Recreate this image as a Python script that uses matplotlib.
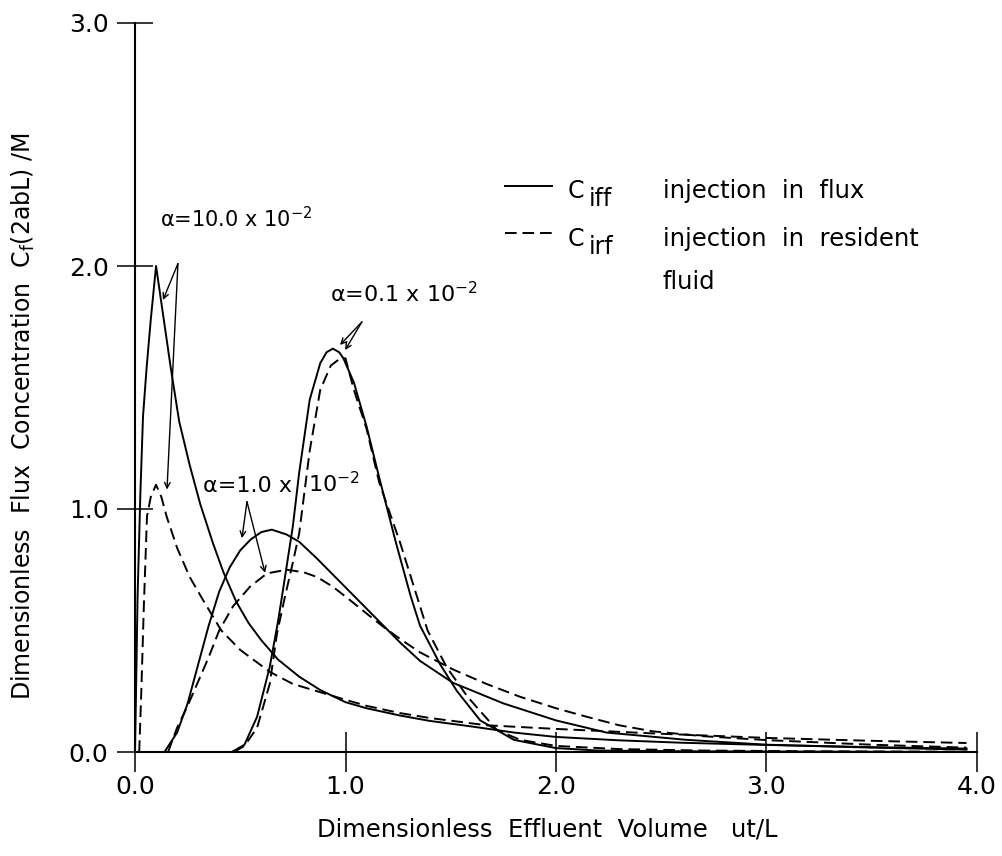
import numpy as np
import matplotlib.pyplot as plt
from matplotlib.lines import Line2D

# alpha = 10.0 x 10^-2
a10_iff_x = [0.0, 0.006, 0.012, 0.025, 0.038, 0.055, 0.075, 0.1, 0.13, 0.17, 0.21, 0.26, 0.31, 0.37,
             0.42, 0.48, 0.54, 0.6, 0.68, 0.78, 0.88, 1.0, 1.1, 1.26, 1.4, 1.6, 1.8, 2.0, 2.3, 2.6,
             3.0, 3.5, 3.95]
a10_iff_y = [0.0, 0.3, 0.63, 1.05, 1.38, 1.58, 1.78, 2.0, 1.82, 1.58, 1.36, 1.18, 1.02, 0.86,
             0.74, 0.62, 0.53, 0.46, 0.38, 0.31, 0.255, 0.205, 0.18, 0.15, 0.128, 0.105, 0.08, 0.062, 0.048, 0.038,
             0.029, 0.02, 0.014]
a10_irf_x = [0.02, 0.03, 0.042, 0.057, 0.075, 0.1, 0.125, 0.15, 0.2, 0.26, 0.32, 0.41, 0.5, 0.64,
             0.75, 0.865, 1.0, 1.1, 1.26, 1.4, 1.67, 2.0, 2.5, 3.0, 3.5, 3.95]
a10_irf_y = [0.0, 0.25, 0.6, 0.97, 1.05, 1.1, 1.05, 0.97, 0.84, 0.72, 0.63, 0.5, 0.42, 0.33,
             0.28, 0.25, 0.215, 0.19, 0.16, 0.14, 0.11, 0.095, 0.075, 0.058, 0.046, 0.037]

# alpha = 1.0 x 10^-2
a1_iff_x = [0.14, 0.2, 0.25, 0.3, 0.35, 0.4, 0.45, 0.5, 0.55, 0.6, 0.65, 0.72, 0.78, 0.86,
            0.94, 1.02, 1.1, 1.18, 1.26, 1.354, 1.51, 1.75, 2.0, 2.24, 2.62, 3.0, 3.5, 3.95]
a1_iff_y = [0.0, 0.08, 0.2, 0.36, 0.52, 0.66, 0.76, 0.83, 0.875, 0.905, 0.915, 0.895, 0.865, 0.8,
            0.73, 0.66, 0.59, 0.52, 0.45, 0.375, 0.285, 0.2, 0.13, 0.08, 0.05, 0.03, 0.018, 0.01]
a1_irf_x = [0.157, 0.2, 0.25, 0.295, 0.35, 0.4, 0.466, 0.546, 0.627, 0.72, 0.8, 0.865, 0.94, 1.02,
            1.1, 1.18, 1.26, 1.354, 1.51, 1.67, 1.83, 2.0, 2.15, 2.3, 2.46, 2.7, 3.0, 3.5, 3.95]
a1_irf_y = [0.0, 0.1, 0.19, 0.28, 0.39, 0.5, 0.6, 0.68, 0.735, 0.75, 0.74, 0.72, 0.68, 0.626,
            0.57, 0.515, 0.465, 0.41, 0.34, 0.28, 0.227, 0.18, 0.144, 0.11, 0.085, 0.065, 0.049, 0.03, 0.018]

# alpha = 0.1 x 10^-2
a01_iff_x = [0.46, 0.52, 0.58, 0.64, 0.68, 0.7, 0.75, 0.78, 0.83, 0.88, 0.91, 0.94, 0.97, 0.99, 1.04, 1.1,
             1.16, 1.24, 1.31, 1.354, 1.45, 1.53, 1.64, 1.8, 2.0, 2.2, 2.6, 3.0, 3.5, 3.95]
a01_iff_y = [0.0, 0.03, 0.145, 0.35, 0.54, 0.65, 0.93, 1.15, 1.45, 1.6, 1.645, 1.66, 1.645, 1.62, 1.52, 1.34,
             1.13, 0.86, 0.64, 0.52, 0.36, 0.25, 0.13, 0.05, 0.016, 0.006, 0.003, 0.002, 0.001, 0.0]
a01_irf_x = [0.47, 0.52, 0.58, 0.64, 0.675, 0.71, 0.75, 0.78, 0.83, 0.88, 0.93, 0.975, 1.0, 1.04,
             1.1, 1.16, 1.26, 1.39, 1.48, 1.58, 1.72, 1.83, 2.0, 2.3, 2.7, 3.2, 3.95]
a01_irf_y = [0.0, 0.025, 0.1, 0.28, 0.49, 0.63, 0.78, 0.9, 1.24, 1.49, 1.59, 1.62, 1.62, 1.49,
             1.33, 1.11, 0.86, 0.5, 0.35, 0.227, 0.09, 0.05, 0.025, 0.012, 0.006, 0.003, 0.001]

x_ticks = [0, 1, 2, 3, 4]
x_tick_labels = ['0.0', '1.0', '2.0', '3.0', '4.0']
y_ticks = [0, 1, 2, 3]
y_tick_labels = ['0.0', '1.0', '2.0', '3.0']

plt.rcParams['font.family'] = ['DejaVu Sans']
plt.rcParams['mathtext.default'] = 'regular'

fig = plt.figure(figsize=(10.03, 8.56), dpi=100)
ax = fig.add_axes([135/1003, 104/856, 842/1003, 729/856])

LW = 1.4
DASH = (6, 3)
ax.plot(a10_iff_x, a10_iff_y, color='black', lw=LW)
ax.plot(a10_irf_x, a10_irf_y, color='black', lw=LW, dashes=DASH)
ax.plot(a1_iff_x, a1_iff_y, color='black', lw=LW)
ax.plot(a1_irf_x, a1_irf_y, color='black', lw=LW, dashes=DASH)
ax.plot(a01_iff_x, a01_iff_y, color='black', lw=LW)
ax.plot(a01_irf_x, a01_irf_y, color='black', lw=LW, dashes=DASH)

ax.set_xlim(0, 4)
ax.set_ylim(0, 3)
for s in ['top', 'right']:
    ax.spines[s].set_visible(False)
for s in ['left', 'bottom']:
    ax.spines[s].set_linewidth(1.5)

ax.set_xticks(x_ticks)
ax.set_xticklabels(x_tick_labels)
ax.set_yticks(y_ticks)
ax.set_yticklabels(y_tick_labels)
ax.tick_params(axis='x', direction='inout', length=29, width=1.1, pad=2, labelsize=18)
ax.tick_params(axis='y', direction='inout', length=26, width=1.1, pad=6, labelsize=18)

ax.set_xlabel('Dimensionless  Effluent  Volume   ut/L', fontsize=17.5)
ax.xaxis.set_label_coords(0.49, -0.09)
ax.set_ylabel(r'Dimensionless  Flux  Concentration  $\mathregular{C_f}$(2abL) /M', fontsize=17)
ax.yaxis.set_label_coords(-0.1164, 0.461)

# annotations
arr = dict(arrowstyle='->', color='black', lw=1.0, shrinkA=0, shrinkB=0)
ax.text(0.119, 2.16, r'α=10.0 x $\mathregular{10^{-2}}$', fontsize=15, va='baseline')
ax.annotate('', xy=(0.133, 1.86), xytext=(0.204, 2.01), arrowprops=arr)
ax.annotate('', xy=(0.152, 1.08), xytext=(0.204, 2.01), arrowprops=arr)

ax.text(0.323, 1.07, 'α=1.0 x', fontsize=16, va='baseline')
ax.text(0.822, 1.07, r'$\mathregular{10^{-2}}$', fontsize=16, va='baseline')
ax.annotate('', xy=(0.508, 0.88), xytext=(0.532, 1.03), arrowprops=arr)
ax.annotate('', xy=(0.618, 0.737), xytext=(0.532, 1.03), arrowprops=arr)

ax.text(0.926, 1.85, r'α=0.1 x $\mathregular{10^{-2}}$', fontsize=16, va='baseline')
ax.annotate('', xy=(0.974, 1.675), xytext=(1.078, 1.77), arrowprops=arr)
ax.annotate('', xy=(0.998, 1.654), xytext=(1.078, 1.77), arrowprops=arr)

# legend
tr = ax.transAxes
ax.add_line(Line2D([0.44, 0.4952], [0.7765, 0.7765], color='black', lw=LW, transform=tr))
ax.add_line(Line2D([0.44, 0.4952], [0.712, 0.712], color='black', lw=LW, dashes=DASH, transform=tr))
ax.text(0.514, 0.7603, 'C', fontsize=17, transform=tr, va='baseline')
ax.text(0.539, 0.7494, 'iff', fontsize=17, transform=tr, va='baseline')
ax.text(0.627, 0.7603, 'injection  in  flux', fontsize=17.5, transform=tr, va='baseline')
ax.text(0.514, 0.6945, 'C', fontsize=17, transform=tr, va='baseline')
ax.text(0.539, 0.6835, 'irf', fontsize=17, transform=tr, va='baseline')
ax.text(0.627, 0.6945, 'injection  in  resident', fontsize=17.5, transform=tr, va='baseline')
ax.text(0.627, 0.6356, 'fluid', fontsize=17.5, transform=tr, va='baseline')

fig.savefig('out.png', dpi=100)
